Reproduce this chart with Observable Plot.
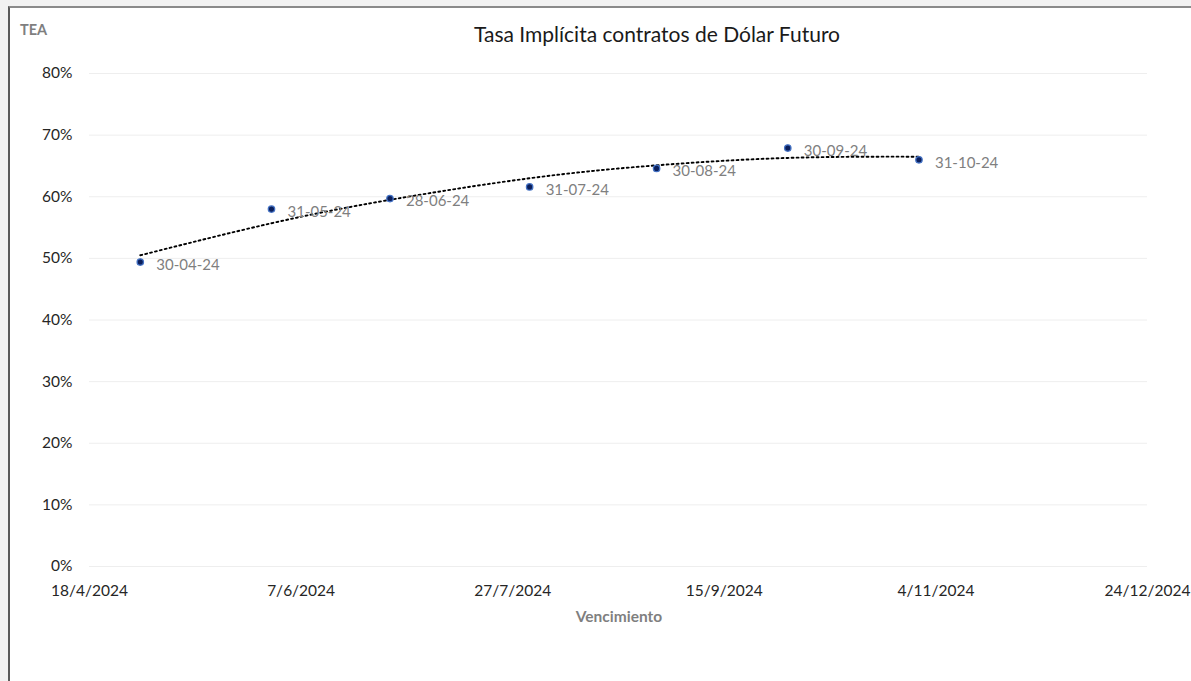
<!DOCTYPE html>
<html>
<head>
<meta charset="utf-8">
<script src="https://cdn.jsdelivr.net/npm/d3@7"></script>
<script src="https://cdn.jsdelivr.net/npm/@observablehq/plot@0.6"></script>
<style>
  html, body { margin: 0; padding: 0; background: #f2f2f2; width: 1191px; height: 681px; overflow: hidden; font-family: Lato, "Open Sans", sans-serif; }
  #frame { position: absolute; left: 8px; top: 6px; width: 1200px; height: 700px; background: #ffffff; border-left: 2px solid #5a5a5a; border-top: 2px solid #8a8a8a; }
  #title { position: absolute; left: 407px; width: 500px; top: 21px; text-align: center; font-size: 21px; color: #1a1a1a; white-space: nowrap; }
  #ylab { position: absolute; left: 20px; top: 21px; font-size: 14.5px; font-weight: bold; color: #7f7f7f; }
  #chart { position: absolute; left: 0; top: 60px; }
  #xlab { position: absolute; left: 519px; width: 200px; top: 607px; text-align: center; font-size: 15.5px; font-weight: bold; color: #7f7f7f; }
</style>
</head>
<body>
<div id="frame"></div>
<div id="title">Tasa Implícita contratos de Dólar Futuro</div>
<div id="ylab">TEA</div>
<div id="chart"></div>
<div id="xlab">Vencimiento</div>
<script>
// Contract maturities and implied annual rates (TEA)
const dates = ["2024-04-30", "2024-05-31", "2024-06-28", "2024-07-31", "2024-08-30", "2024-09-30", "2024-10-31"];
const rates = [0.494, 0.580, 0.597, 0.616, 0.646, 0.679, 0.660];
const pointLabels = ["30-04-24", "31-05-24", "28-06-24", "31-07-24", "30-08-24", "30-09-24", "31-10-24"];
// Dotted trend line values at each maturity
const trend = [0.505, 0.557, 0.595, 0.630, 0.651, 0.663, 0.665];
// Axis ticks
const xTicks = ["2024-04-18", "2024-06-07", "2024-07-27", "2024-09-15", "2024-11-04", "2024-12-24"];
const yTicks = [0, 0.1, 0.2, 0.3, 0.4, 0.5, 0.6, 0.7, 0.8];

const data = dates.map((d, i) => ({date: new Date(d), rate: rates[i], label: pointLabels[i], trend: trend[i]}));
const xTickDates = xTicks.map(d => new Date(d));
const fmtDate = d => `${d.getUTCDate()}/${d.getUTCMonth() + 1}/${d.getUTCFullYear()}`;

const chart = Plot.plot({
  width: 1191,
  height: 545,
  marginLeft: 89,
  marginRight: 44,
  marginTop: 13,
  marginBottom: 39,
  style: {fontFamily: "Lato, 'Open Sans', sans-serif", fontSize: "15.5px", background: "transparent", color: "#262626", overflow: "visible"},
  x: {
    type: "utc",
    domain: [xTickDates[0], xTickDates[xTickDates.length - 1]],
    label: null
  },
  y: {
    domain: [0, 0.8],
    label: null
  },
  marks: [
    Plot.gridY(yTicks, {stroke: "#eeeeee", strokeOpacity: 1, strokeWidth: 1}),
    Plot.axisX({ticks: xTickDates, tickSize: 0, tickPadding: 18, fill: "#262626", tickFormat: fmtDate, label: null}),
    Plot.axisY({ticks: yTicks, tickSize: 0, tickPadding: 17, fill: "#262626", tickFormat: d3.format(".0%"), label: null}),
    Plot.line(data, {x: "date", y: "trend", curve: "natural", stroke: "#000000", strokeWidth: 1.9, strokeDasharray: "1.9 3.1"}),
    Plot.dot(data, {x: "date", y: "rate", r: 3.2, fill: "#0b1f5c", stroke: "#4472c4", strokeWidth: 1.3}),
    Plot.text(data, {x: "date", y: "rate", text: "label", dx: 16, dy: 3, textAnchor: "start", fill: "#7f7f7f", fontSize: 15})
  ]
});
document.getElementById("chart").appendChild(chart);
</script>
</body>
</html>
